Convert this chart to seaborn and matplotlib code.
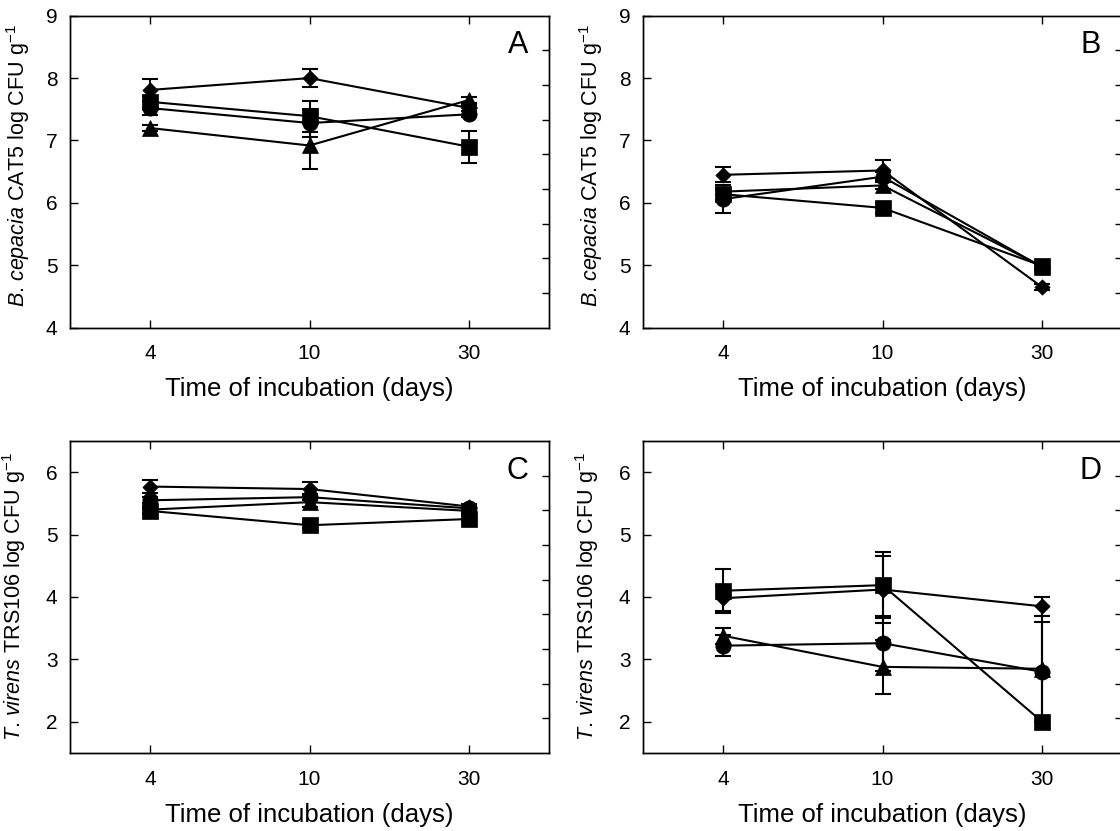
import numpy as np
import pandas as pd
import matplotlib
matplotlib.use("Agg")
import matplotlib.pyplot as plt
from matplotlib.path import Path
import seaborn as sns

# x categories and series (diamond, square, triangle, circle)
days = ["4", "10", "30"]
series = ["S1", "S2", "S3", "S4"]

# panel A - B. cepacia, first set
a_mean = [[7.81, 8.00, 7.52], [7.62, 7.39, 6.90], [7.20, 6.92, 7.65], [7.52, 7.28, 7.42]]
a_err = [[0.18, 0.14, 0.05], [0.10, 0.25, 0.26], [0.05, 0.37, 0.05], [0.11, 0.22, 0.05]]

# panel B - B. cepacia, second set
b_mean = [[6.45, 6.52, 4.65], [6.14, 5.92, 4.99], [6.18, 6.28, 4.98], [6.06, 6.42, 4.97]]
b_err = [[0.12, 0.16, 0.05], [0.10, 0.08, 0.05], [0.05, 0.06, 0.05], [0.22, 0.08, 0.05]]

# panel C - T. virens, first set
c_mean = [[5.77, 5.73, 5.45], [5.38, 5.15, 5.25], [5.40, 5.52, 5.38], [5.55, 5.60, 5.42]]
c_err = [[0.10, 0.11, 0.04], [0.05, 0.05, 0.05], [0.05, 0.08, 0.05], [0.05, 0.05, 0.05]]

# panel D - T. virens, second set
d_mean = [[3.98, 4.12, 3.85], [4.10, 4.19, 2.00], [3.38, 2.88, 2.85], [3.22, 3.26, 2.80]]
d_err = [[0.20, 0.54, 0.15], [0.35, 0.53, 0.00], [0.13, 0.43, 0.85], [0.17, 0.44, 0.80]]

xlab = "Time of incubation (days)"
ylab_b = r"$\mathit{B}$. $\mathit{cepacia}$ CAT5 log CFU g$^{\mathregular{-1}}$"
ylab_t = r"$\mathit{T}$. $\mathit{virens}$ TRS106 log CFU g$^{\mathregular{-1}}$"

sns.set_theme(style="white")
plt.rcParams["font.family"] = ["Liberation Sans", "DejaVu Sans"]
plt.rcParams["mathtext.fontset"] = "custom"
plt.rcParams["mathtext.rm"] = "Liberation Sans"
plt.rcParams["mathtext.it"] = "Liberation Sans:italic"
plt.rcParams["axes.linewidth"] = 1.0
plt.rcParams["axes.edgecolor"] = "black"
plt.rcParams["text.color"] = "black"
plt.rcParams["axes.labelcolor"] = "black"

diamond = Path([(0, 1), (1, 0), (0, -1), (-1, 0), (0, 1)],
               [Path.MOVETO, Path.LINETO, Path.LINETO, Path.LINETO, Path.CLOSEPOLY])
marker_map = {"S1": diamond, "S2": "s", "S3": "^", "S4": "o"}


def draw_panel(ax, mean, err, ylim, yticks, letter, ylabel, ylab_pos):
    rows = []
    for s, m_row, e_row in zip(series, mean, err):
        for d, m, e in zip(days, m_row, e_row):
            rows.append({"day": d, "series": s, "value": m, "err": e})
    df = pd.DataFrame(rows)

    sns.lineplot(data=df, x="day", y="value", style="series", markers=marker_map,
                 dashes=False, color="black", markersize=11, linewidth=1.5,
                 markeredgecolor="black", markeredgewidth=0.5, sort=False,
                 errorbar=None, legend=False, ax=ax, zorder=3)
    ax.errorbar(df["day"], df["value"], yerr=df["err"], fmt="none", ecolor="black",
                elinewidth=1.5, capsize=6, capthick=1.5, zorder=2)

    ax.set_xlim(-0.5, 2.5)
    ax.set_ylim(*ylim)
    ax.set_yticks(yticks)
    ax.tick_params(axis="both", direction="in", length=6, width=1, colors="black",
                   labelsize=15)
    ax.tick_params(axis="x", top=True, bottom=True, pad=12)
    ax.tick_params(axis="y", left=True, right=False, pad=9)
    ax.set_xlabel(xlab, fontsize=18.5, labelpad=10)
    ax.set_ylabel(ylabel, fontsize=15.5)
    ax.yaxis.set_label_coords(*ylab_pos)
    ax.text(0.935, 0.905, letter, transform=ax.transAxes, ha="center", va="center",
            fontsize=22)
    for sp in ax.spines.values():
        sp.set_visible(True)
        sp.set_color("black")

    # minor scale on the right edge
    ax2 = ax.twinx()
    ax2.set_ylim(0, 9)
    ax2.set_yticks(range(1, 9))
    ax2.tick_params(axis="y", direction="in", length=5, width=1, colors="black",
                    labelright=False, right=True)
    ax2.grid(False)


fig = plt.figure(figsize=(11.2, 8.31), dpi=100)
w, h = 479 / 1120, 312 / 831
ax_a = fig.add_axes([70 / 1120, 1 - 327.7 / 831, w, h])
ax_b = fig.add_axes([643 / 1120, 1 - 327.7 / 831, w, h])
ax_c = fig.add_axes([70 / 1120, 1 - 753 / 831, w, h])
ax_d = fig.add_axes([643 / 1120, 1 - 753 / 831, w, h])

draw_panel(ax_a, a_mean, a_err, (4, 9), range(4, 10), "A", ylab_b, (-0.08, 0.52))
draw_panel(ax_b, b_mean, b_err, (4, 9), range(4, 10), "B", ylab_b, (-0.08, 0.52))
draw_panel(ax_c, c_mean, c_err, (1.5, 6.5), range(2, 7), "C", ylab_t, (-0.087, 0.5))
draw_panel(ax_d, d_mean, d_err, (1.5, 6.5), range(2, 7), "D", ylab_t, (-0.087, 0.5))

fig.savefig("out.png", dpi=100)
